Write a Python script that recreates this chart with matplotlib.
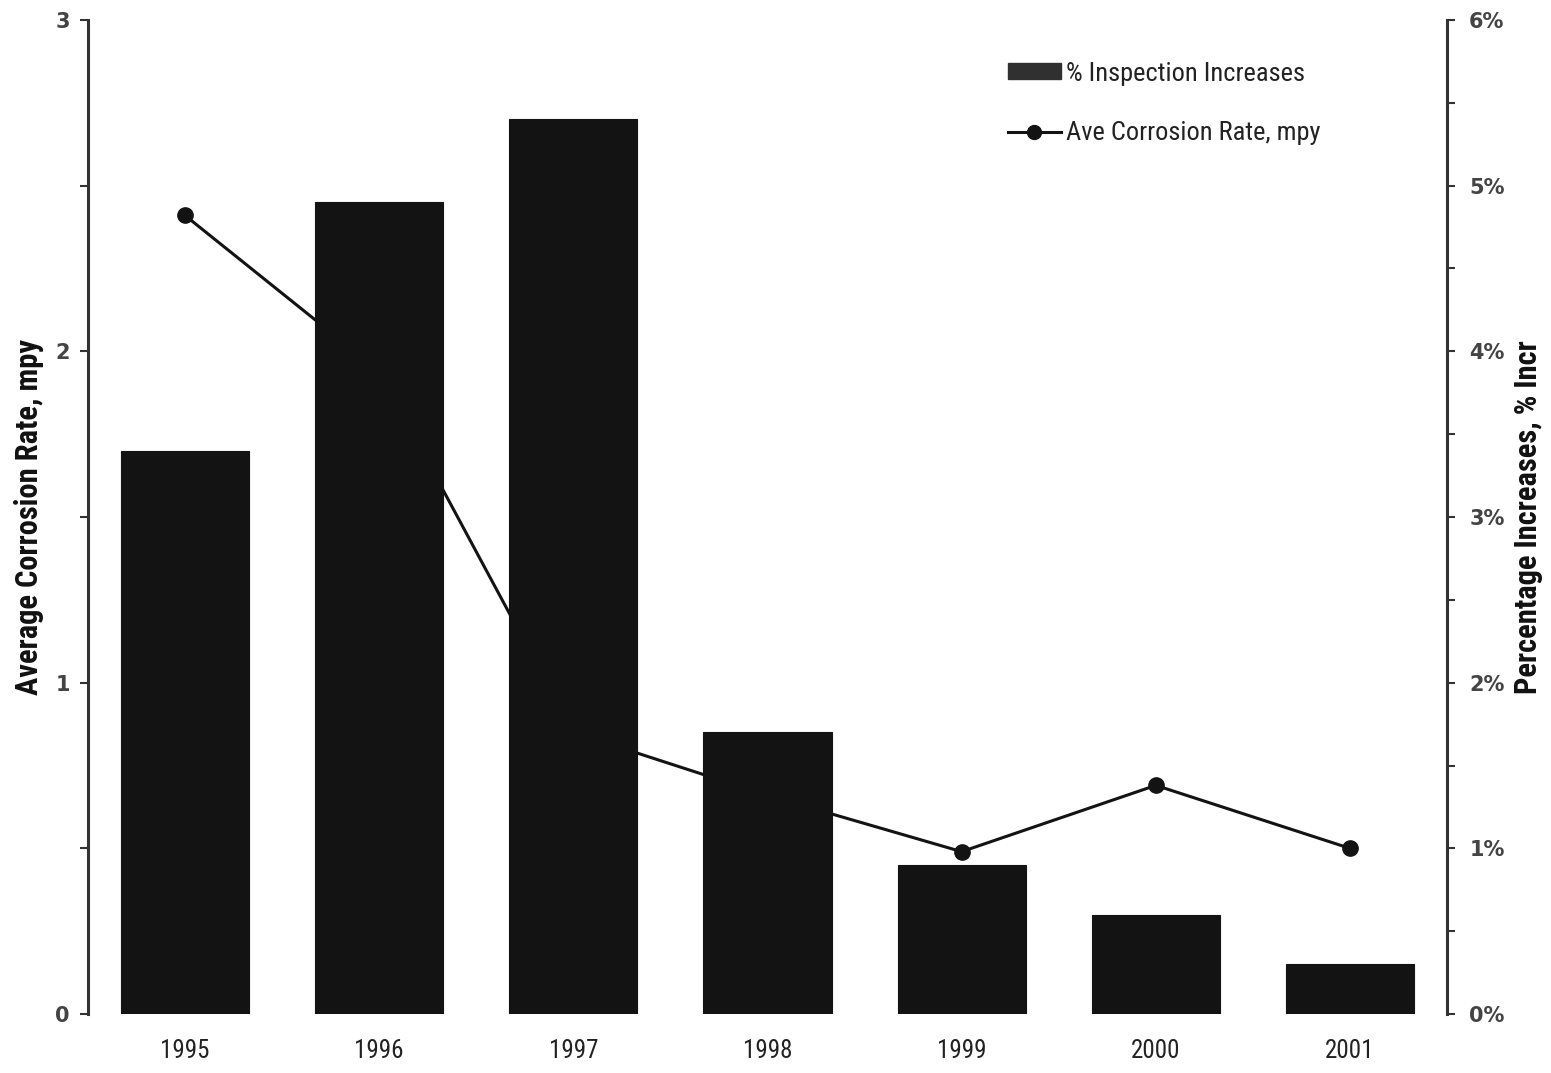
import matplotlib
matplotlib.use("Agg")
import matplotlib.pyplot as plt
from matplotlib import font_manager
from matplotlib.ticker import MultipleLocator, FuncFormatter
from matplotlib.patches import Patch
from matplotlib.lines import Line2D

# Data
years = ["1995", "1996", "1997", "1998", "1999", "2000", "2001"]
inspection_increase_pct = [3.4, 4.9, 5.4, 1.7, 0.9, 0.6, 0.3]
corrosion_rate_mpy = [2.41, 1.94, 0.85, 0.66, 0.49, 0.69, 0.50]

installed = {f.name for f in font_manager.fontManager.ttflist}
narrow = "Roboto"
for cand in ["Liberation Sans Narrow", "DejaVu Sans Condensed", "Roboto Condensed",
             "Open Sans Condensed", "Noto Sans Condensed"]:
    if cand in installed:
        narrow = cand
        break

fig = plt.figure(figsize=(15.51, 10.73), dpi=100)
fig.patch.set_facecolor("white")

W, H = 1551, 1073
left, right, top, bottom = 88, 1447, 20, 1014
ax = fig.add_axes([left / W, 1 - bottom / H, (right - left) / W, (bottom - top) / H])
ax2 = ax.twinx()

x = list(range(len(years)))
ink = "#131313"

# Bars: percentage of inspection increases (right axis)
ax2.bar(x, [v / 100 for v in inspection_increase_pct], width=0.66,
        color=ink, edgecolor=ink, linewidth=0.8, zorder=2)

# Line: average corrosion rate (left axis)
ax.plot(x, corrosion_rate_mpy, color=ink, linewidth=2.2,
        marker="o", markersize=11, zorder=3)
ax.set_zorder(ax2.get_zorder() + 1)
ax.patch.set_visible(False)

ax.set_xlim(-0.5, len(years) - 0.5)
ax.set_ylim(0, 3)
ax2.set_ylim(0, 0.06)

spine_color = "#333333"
for a in (ax, ax2):
    for s in ("top", "bottom"):
        a.spines[s].set_visible(False)
ax.spines["right"].set_visible(False)
ax2.spines["left"].set_visible(False)
ax.spines["left"].set_color(spine_color)
ax.spines["left"].set_linewidth(2.2)
ax2.spines["right"].set_color(spine_color)
ax2.spines["right"].set_linewidth(2.2)

# Left axis ticks
ax.yaxis.set_major_locator(MultipleLocator(1))
ax.yaxis.set_minor_locator(MultipleLocator(0.5))
ax.tick_params(axis="y", which="both", direction="out", length=6, width=1.5,
               color=spine_color, labelsize=15, labelcolor="#444444", pad=7)
for lbl in ax.get_yticklabels():
    lbl.set_fontweight("bold")

# Right axis ticks
ax2.yaxis.set_major_locator(MultipleLocator(0.01))
ax2.yaxis.set_minor_locator(MultipleLocator(0.005))
ax2.yaxis.set_major_formatter(FuncFormatter(lambda v, p: f"{v * 100:.0f}%"))
ax2.tick_params(axis="y", which="both", direction="out", length=6, width=1.5,
                color=spine_color, labelsize=15, labelcolor="#444444", pad=10)
for lbl in ax2.get_yticklabels():
    lbl.set_fontweight("bold")

# Category labels
ax.set_xticks(x)
ax.set_xticklabels(years, fontsize=18, family=narrow, color="#222222")
ax.tick_params(axis="x", which="both", length=0, pad=18)

ax.set_ylabel("Average Corrosion Rate, mpy", fontsize=22, fontweight="bold",
              family=narrow, color="#111111")
ax.yaxis.set_label_coords((44 - left) / (right - left), 0.5)
ax2.set_ylabel("Percentage Increases, % Incr", fontsize=22, fontweight="bold",
               family=narrow, color="#111111", labelpad=6)

handles = [
    Patch(facecolor="#303030", edgecolor="#303030", label="% Inspection Increases"),
    Line2D([0], [0], color=ink, linewidth=2.2, marker="o", markersize=10,
           label="Ave Corrosion Rate, mpy"),
]
fig.legend(handles=handles, loc="upper left", bbox_to_anchor=(984 / W, 1 - 38 / H),
           frameon=False, prop={"family": narrow, "size": 19},
           handlelength=2.0, handleheight=0.55, handletextpad=0.2, labelspacing=1.35,
           labelcolor="#222222")

fig.savefig("out.png", dpi=100, facecolor="white")
